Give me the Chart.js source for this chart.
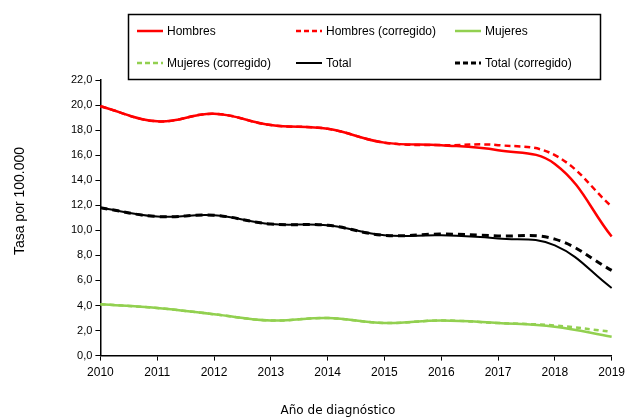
<!DOCTYPE html>
<html>
<head>
<meta charset="utf-8">
<script src="https://cdn.jsdelivr.net/npm/chart.js@4.4.1/dist/chart.umd.min.js"></script>
<style>
  html, body { margin: 0; padding: 0; background: #fff; }
  #wrap { width: 630px; height: 419px; position: relative; }
</style>
</head>
<body>
<div id="wrap"><canvas id="c" width="630" height="419"></canvas></div>
<script>
const years = ['2010','2011','2012','2013','2014','2015','2016','2017','2018','2019'];
const hombres      = [19.9, 18.7, 19.3, 18.4, 18.1, 17.0, 16.8, 16.4, 15.3, 9.5];
const hombresCorr  = [19.9, 18.7, 19.3, 18.4, 18.1, 17.0, 16.8, 16.8, 16.0, 11.9];
const mujeres      = [4.1, 3.8, 3.3, 2.8, 3.0, 2.6, 2.8, 2.6, 2.3, 1.5];
const mujeresCorr  = [4.1, 3.8, 3.3, 2.8, 3.0, 2.6, 2.8, 2.6, 2.4, 1.9];
const total        = [11.8, 11.1, 11.2, 10.5, 10.4, 9.6, 9.6, 9.35, 8.8, 5.4];
const totalCorr    = [11.8, 11.1, 11.2, 10.5, 10.4, 9.6, 9.7, 9.55, 9.3, 6.8];
const seriesNames  = ['Hombres', 'Hombres (corregido)', 'Mujeres', 'Mujeres (corregido)', 'Total', 'Total (corregido)'];
const yTicks = [0, 2, 4, 6, 8, 10, 12, 14, 16, 18, 20, 22];
const xTitle = 'Año de diagnóstico';
const yTitle = 'Tasa por 100.000';

const RED = '#ff0000', GREEN = '#92d050', BLACK = '#000000';
const SANS = '"Liberation Sans", Arial, sans-serif';

function ds(label, data, color, width, dash, order) {
  return {
    label, data, borderColor: color, backgroundColor: color,
    borderWidth: width, borderDash: dash, pointRadius: 0,
    tension: 0.4, fill: false, order
  };
}

const legendBox = {
  id: 'legendBox',
  afterDraw(chart) {
    const ctx = chart.ctx;
    ctx.save();
    ctx.strokeStyle = '#000';
    ctx.lineWidth = 1.5;
    ctx.strokeRect(128.5, 14.5, 472, 65);
    const cols = [137, 296, 455];
    const rows = [31, 63];
    ctx.font = '12px ' + SANS;
    ctx.textBaseline = 'middle';
    ctx.fillStyle = '#000';
    chart.data.datasets.forEach((d, i) => {
      const x = cols[i % 3], y = rows[Math.floor(i / 3)];
      ctx.beginPath();
      ctx.strokeStyle = d.borderColor;
      ctx.lineWidth = d.borderWidth;
      ctx.setLineDash(d.borderDash && d.borderDash.length ? [5, 3] : []);
      ctx.moveTo(x, y); ctx.lineTo(x + 26, y);
      ctx.stroke();
      ctx.setLineDash([]);
      ctx.fillText(d.label, x + 30, y + 1);
    });
    // axis titles
    ctx.textAlign = 'center';
    ctx.font = '12px "DejaVu Sans", Verdana, sans-serif';
    ctx.fillText(xTitle, 338, 411);
    ctx.translate(20, 201);
    ctx.rotate(-Math.PI / 2);
    ctx.font = '14px ' + SANS;
    ctx.fillText(yTitle, 0, 0);
    ctx.restore();
  }
};

new Chart(document.getElementById('c'), {
  type: 'line',
  data: {
    labels: years,
    datasets: [
      ds(seriesNames[0], hombres, RED, 2.5, [], 2),
      ds(seriesNames[1], hombresCorr, RED, 2.5, [6, 4], 1),
      ds(seriesNames[2], mujeres, GREEN, 2.5, [], 2),
      ds(seriesNames[3], mujeresCorr, GREEN, 2.5, [5, 4], 1),
      ds(seriesNames[4], total, BLACK, 2, [], 2),
      ds(seriesNames[5], totalCorr, BLACK, 3, [7, 5], 1)
    ]
  },
  options: {
    responsive: false,
    animation: false,
    layout: { padding: { top: 80, right: 16, bottom: 34, left: 68 } },
    plugins: { legend: { display: false }, tooltip: { enabled: false } },
    scales: {
      x: {
        offset: false,
        grid: { display: true, drawOnChartArea: false, drawTicks: true, tickLength: 5, color: '#000' },
        border: { color: '#000', width: 1.5 },
        ticks: { color: '#000', font: { family: SANS, size: 12 }, maxRotation: 0, padding: 5 }
      },
      y: {
        min: 0, max: 22,
        afterBuildTicks(axis) { axis.ticks = yTicks.map(v => ({ value: v })); },
        grid: { display: true, drawOnChartArea: false, drawTicks: true, tickLength: 5, color: '#000' },
        border: { color: '#000', width: 1.5 },
        ticks: { color: '#000', font: { family: SANS, size: 11 }, padding: 3,
                 callback: v => v.toFixed(1).replace('.', ',') }
      }
    }
  },
  plugins: [legendBox]
});
</script>
</body>
</html>
